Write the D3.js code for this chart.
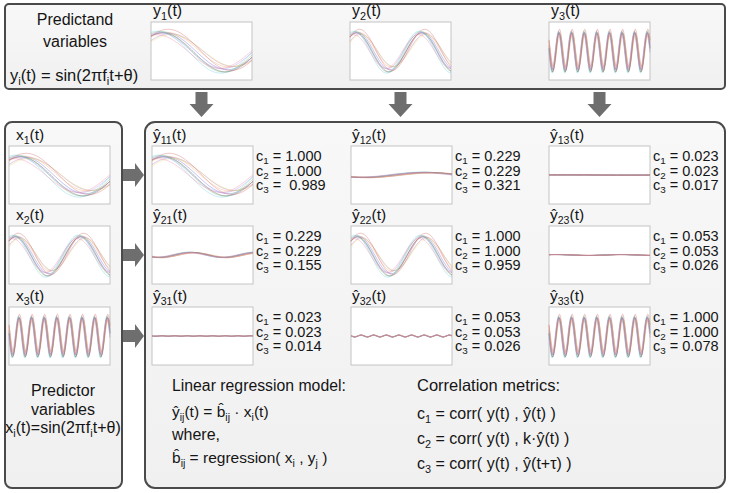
<!DOCTYPE html>
<html>
<head>
<meta charset="utf-8">
<script src="https://cdn.jsdelivr.net/npm/d3@7"></script>
<style>
  html, body { margin: 0; padding: 0; background: #ffffff; }
  svg { display: block; }
  text { font-family: Arial, "Liberation Sans", sans-serif; fill: #151515; }
</style>
</head>
<body>
<svg id="chart" width="730" height="493"></svg>
<script>
// ---------------- data ----------------
const variableIds = ["1", "2", "3"];
// cycles across the plotted window, and position (fraction of width) of the first peak
const frequencies = [0.8, 1.55, 8];
const firstPeak = [0.13, 0.073, 0.1];
// the realisations drawn in every panel (phase offset, amplitude, vertical shift)
const curvePhase = [0.00, -0.30, 0.18, -0.12, 0.32, -0.36, 0.08, 0.24, -0.20, 0.38];
const curveAmp   = [1.00, 0.88, 1.08, 0.93, 1.12, 0.85, 1.04, 0.96, 1.10, 0.90];
const curveShift = [0.00, 0.10, -0.08, 0.14, -0.12, 0.05, -0.15, 0.03, 0.12, -0.05];
const curveColors = ["#6a6ae0", "#b27ac8", "#7cc07c", "#f2b070", "#70d0e8",
                     "#e8d870", "#5a5a5a", "#9c9cf2", "#d86a6a", "#f08aa0"];
// regression coefficients b_ij (row i = predictor x_i, column j = predictand y_j)
const coefficients = [
  [1.00, -0.13, 0.008],
  [-0.13, 1.00, 0.025],
  [0.012, 0.045, 1.00]
];
// correlation metrics shown next to each estimate
const metricC1 = [["1.000", "0.229", "0.023"], ["0.229", "1.000", "0.053"], ["0.023", "0.053", "1.000"]];
const metricC2 = [["1.000", "0.229", "0.023"], ["0.229", "1.000", "0.053"], ["0.023", "0.053", "1.000"]];
const metricC3 = [[" 0.989", "0.321", "0.017"], ["0.155", "0.959", "0.026"], ["0.014", "0.026", "0.078"]];

// ---------------- layout ----------------
const svg = d3.select("#chart");
const boxW = 101, boxH = 58;
const topBoxX = [151, 350, 549], topBoxY = 22;
const leftBoxX = 9, rowY = [146, 226, 307];
const colX = [152, 351, 549];

const defs = svg.append("defs");
const grad = defs.append("linearGradient").attr("id", "panelGrad")
  .attr("x1", 0).attr("y1", 0).attr("x2", 0).attr("y2", 1);
grad.append("stop").attr("offset", "0%").attr("stop-color", "#f8f8f8");
grad.append("stop").attr("offset", "100%").attr("stop-color", "#f0f0f0");

function panel(x, y, w, h, r) {
  svg.append("rect").attr("x", x).attr("y", y).attr("width", w).attr("height", h)
    .attr("rx", r).attr("ry", r)
    .attr("fill", "url(#panelGrad)").attr("stroke", "#4a4a4a").attr("stroke-width", 2);
}
panel(5, 4, 720, 85, 4);
panel(5, 122, 117, 366, 7);
panel(145, 122, 580, 366, 10);

// rich text helper: segments [text, kind] where kind: "", "sub"
function rich(g, x, y, segs, opts = {}) {
  const t = g.append("text").attr("x", x).attr("y", y)
    .attr("font-size", opts.size || 15)
    .attr("text-anchor", opts.anchor || "start")
    .attr("xml:space", "preserve");
  const sh = opts.sub || 4;
  let shifted = 0;
  segs.forEach(s => {
    const [str, kind] = Array.isArray(s) ? s : [s, ""];
    const ts = t.append("tspan").text(str);
    if (kind === "sub") {
      ts.attr("font-size", "0.68em").attr("dy", sh - shifted); shifted = sh;
    } else {
      if (shifted) ts.attr("dy", -shifted);
      shifted = 0;
    }
  });
  return t;
}

// ---------------- small plots ----------------
const xs = d3.scaleLinear().domain([0, 1]).range([0, boxW]);
const ys = d3.scaleLinear().domain([-1.55, 1.55]).range([boxH, 0]);
const samples = d3.range(0, 1.0001, 1 / 300);

function curveValue(v, k, t) {
  const theta = Math.PI / 2 - 2 * Math.PI * frequencies[v] * firstPeak[v];
  return curveAmp[k] * Math.sin(2 * Math.PI * frequencies[v] * t + theta + curvePhase[k]) + curveShift[k] * 0.5;
}

function plot(x, y, v, scale) {
  const g = svg.append("g").attr("transform", `translate(${x},${y})`);
  g.append("rect").attr("width", boxW).attr("height", boxH)
    .attr("fill", "#ffffff").attr("stroke", "#c4c4c4").attr("stroke-width", 1);
  const line = d3.line().x(d => xs(d[0])).y(d => ys(d[1]));
  curveColors.forEach((c, k) => {
    const pts = samples.map(t => [t, scale * curveValue(v, k, t)]);
    g.append("path").attr("d", line(pts)).attr("fill", "none")
      .attr("stroke", c).attr("stroke-width", 0.7).attr("stroke-opacity", 0.6);
  });
  return g;
}

// top row: predictands
variableIds.forEach((id, j) => {
  plot(topBoxX[j], topBoxY, j, 1);
  rich(svg, topBoxX[j] + 2, topBoxY - 6, ["y", [id, "sub"], "(t)"], { size: 16 });
});
rich(svg, 75, 25, ["Predictand"], { size: 16, anchor: "middle" });
rich(svg, 75, 47, ["variables"], { size: 16, anchor: "middle" });
rich(svg, 10, 81, ["y", ["i", "sub"], "(t) = sin(2πf", ["i", "sub"], "t+θ)"], { size: 16.5 });

// left column: predictors
variableIds.forEach((id, i) => {
  plot(leftBoxX, rowY[i], i, 1);
  rich(svg, 16, rowY[i] - 6, ["x", [id, "sub"], "(t)"], { size: 15.5 });
});
rich(svg, 63, 396, ["Predictor"], { size: 16, anchor: "middle" });
rich(svg, 63, 415, ["variables"], { size: 16, anchor: "middle" });
rich(svg, 63, 433, ["x", ["i", "sub"], "(t)=sin(2πf", ["i", "sub"], "t+θ)"], { size: 16, anchor: "middle" });

// estimates grid
variableIds.forEach((ri, i) => {
  variableIds.forEach((cj, j) => {
    plot(colX[j], rowY[i], i, coefficients[i][j]);
    rich(svg, colX[j] + 1, rowY[i] - 6, ["ŷ", [ri + cj, "sub"], "(t)"], { size: 15.5 });
    const tx = colX[j] + boxW + 3;
    const by = rowY[i];
    rich(svg, tx, by + 15, ["c", ["1", "sub"], " = " + metricC1[i][j]], { size: 14.5, sub: 3 });
    rich(svg, tx, by + 29.5, ["c", ["2", "sub"], " = " + metricC2[i][j]], { size: 14.5, sub: 3 });
    rich(svg, tx, by + 44, ["c", ["3", "sub"], " = " + metricC3[i][j]], { size: 14.5, sub: 3 });
  });
});

// arrows
function downArrow(cx) {
  const p = [[cx - 6, 92], [cx + 6, 92], [cx + 6, 104], [cx + 12, 104], [cx, 117], [cx - 12, 104], [cx - 6, 104]];
  svg.append("path").attr("d", d3.line()(p) + "Z").attr("fill", "#6e6e6e");
}
function rightArrow(cy) {
  const p = [[123, cy - 6], [135, cy - 6], [135, cy - 12], [144, cy], [135, cy + 12], [135, cy + 6], [123, cy + 6]];
  svg.append("path").attr("d", d3.line()(p) + "Z").attr("fill", "#6e6e6e");
}
topBoxX.forEach(x => downArrow(x + boxW / 2));
rowY.forEach(y => rightArrow(y + boxH / 2));

// model text
rich(svg, 172, 391, ["Linear regression model:"], { size: 15.8 });
rich(svg, 172, 417, ["ŷ", ["ij", "sub"], "(t) = b\u0302", ["ij", "sub"], " · x", ["i", "sub"], "(t)"], { size: 15.5 });
rich(svg, 172, 440, ["where,"], { size: 16 });
rich(svg, 172, 463, ["b\u0302", ["ij", "sub"], " = regression( x", ["i", "sub"], " , y", ["j", "sub"], " )"], { size: 15.5 });

rich(svg, 417, 391, ["Correlation metrics:"], { size: 16.5 });
rich(svg, 417, 419, ["c", ["1", "sub"], " = corr( y(t) , ŷ(t) )"], { size: 16 });
rich(svg, 417, 444, ["c", ["2", "sub"], " = corr( y(t) , k·ŷ(t) )"], { size: 16 });
rich(svg, 417, 469, ["c", ["3", "sub"], " = corr( y(t) , ŷ(t+τ) )"], { size: 16 });
</script>
</body>
</html>
